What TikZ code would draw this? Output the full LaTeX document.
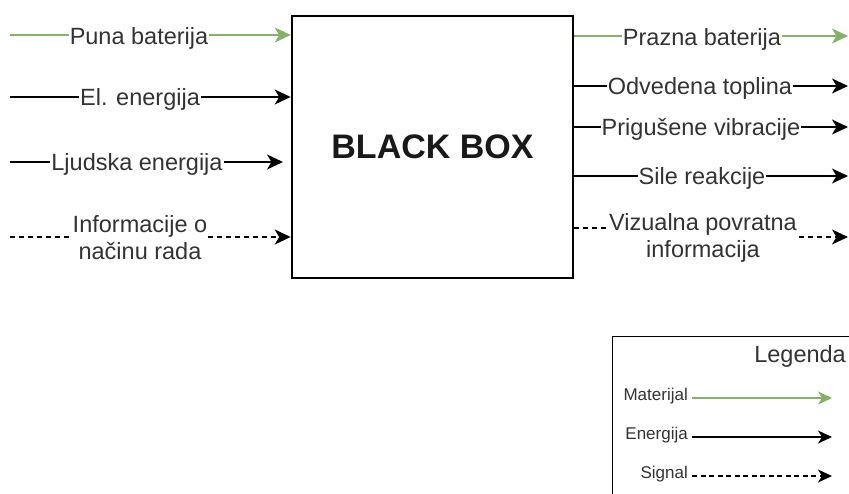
\documentclass[tikz,border=0pt]{standalone}
\usepackage{fontspec}
\setmainfont{Liberation Sans}
\usetikzlibrary{arrows.meta,calc}
\definecolor{matgreen}{HTML}{82B366}
\definecolor{txt}{HTML}{333333}
\begin{document}
\begin{tikzpicture}[x=1pt,y=-1pt,
  tip/.tip={Stealth[length=16pt,width=15pt,inset=4.5pt]},
  ltip/.tip={Stealth[length=14pt,width=13pt,inset=4pt]},
  flow/.style={line width=1.5pt,-tip},
  matflow/.style={flow,matgreen},
  sigflow/.style={flow,dash pattern=on 5pt off 4pt},
  lbl/.style={fill=white,text=txt,inner xsep=1pt,inner ysep=0pt,align=center,
    font=\fontsize{23.5}{27}\selectfont},
  leglbl/.style={text=txt,inner sep=0pt,anchor=east,font=\fontsize{17}{20}\selectfont},
  lflow/.style={line width=1.3pt,-ltip},
]
\useasboundingbox (0,0) rectangle (849,493);
\clip (0,0) rectangle (849,493);
\fill[white] (0,0) rectangle (849,493);

% black box
\node[draw,line width=2.6pt,minimum width=281pt,minimum height=262pt,inner sep=0pt,
  font=\fontsize{34}{40}\selectfont\bfseries,text=black!90]
  (box) at (432.5,147) {BLACK BOX};

% left inputs
\coordinate (i1) at (10,35);
\coordinate (i2) at (10,97);
\coordinate (i3) at (10,162);
\coordinate (i3e) at (283,162);
\coordinate (i4) at (10,237);
\draw[matflow] (i1) -- (box.west |- i1);
\draw[flow] (i2) -- (box.west |- i2);
\draw[flow] (i3) -- (i3e);
\draw[sigflow] (i4) -- (box.west |- i4);
\node[lbl] (l1) at (139,38) {Puna baterija};
\node[lbl] (l2) at (140,99) {El. energija};
\node[lbl] (l3) at (137,164) {Ljudska energija};
\node[lbl] (l4) at (140,238) {Informacije o\\načinu rada};

% right outputs
\coordinate (o1) at (848,36);
\coordinate (o2) at (848,86);
\coordinate (o3) at (848,127);
\coordinate (o4) at (848,176);
\coordinate (o5) at (848,237);
\draw[matflow] (box.east |- o1) -- (o1);
\draw[flow] (box.east |- o2) -- (o2);
\draw[flow] (box.east |- o3) -- (o3);
\draw[flow] (box.east |- o4) -- (o4);
\draw[sigflow] ($(box.east |- o5)+(0,-9)$) -- (702,228) -- (702,237) -- (o5);
\node[lbl] (r1) at (702,39) {Prazna baterija};
\node[lbl] (r2) at (700,88) {Odvedena toplina};
\node[lbl] (r3) at (701,129) {Prigušene vibracije};
\node[lbl] (r4) at (702,178) {Sile reakcije};
\node[lbl] (r5) at (703,238) {Vizualna povratna\\informacija};

% legend
\node[draw,line width=1.3pt,minimum width=260pt,minimum height=180pt,anchor=north west,inner sep=0pt]
  (leg) at (612,336) {};
\node[text=txt,inner sep=0pt,anchor=east,font=\fontsize{23.5}{27}\selectfont] (legt) at (846,356) {Legenda};
\node[leglbl] (m) at (688,396) {Materijal};
\node[leglbl] (e) at (688,435) {Energija};
\node[leglbl] (s) at (688,474) {Signal};
\coordinate (me) at (832,398);
\coordinate (ee) at (832,437);
\coordinate (se) at (832,476);
\draw[lflow,matgreen] (m.east |- me) ++(4,0) -- (me);
\draw[lflow] (e.east |- ee) ++(4,0) -- (ee);
\draw[lflow,dash pattern=on 5pt off 3.5pt] (s.east |- se) ++(4,0) -- (se);
\end{tikzpicture}
\end{document}
